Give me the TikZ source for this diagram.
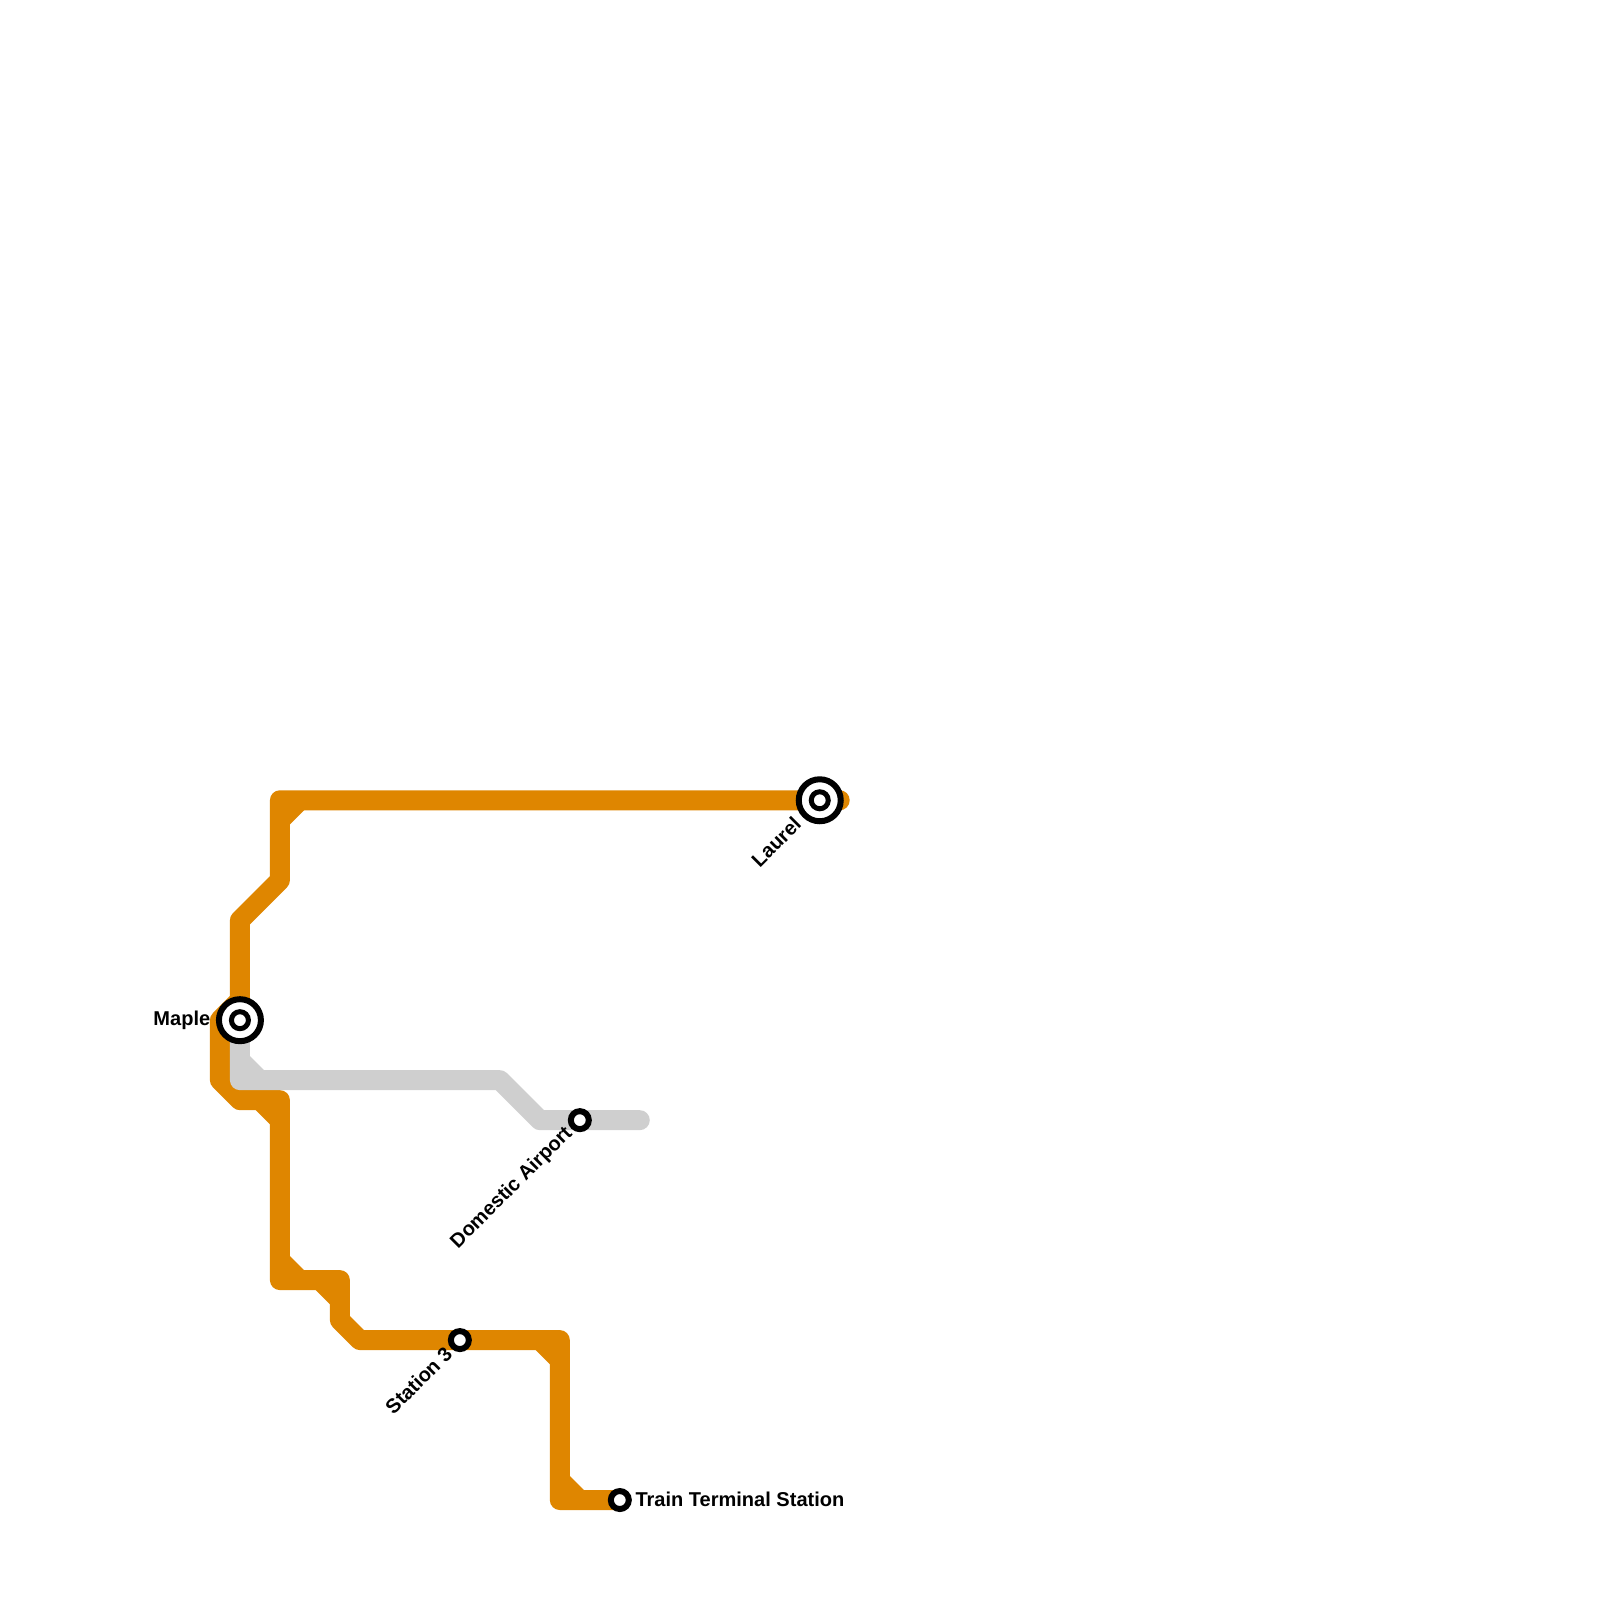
\documentclass[tikz,border=0pt]{standalone}
\usepackage{fontspec}
\setmainfont{Liberation Sans}
\definecolor{LineOrange}{RGB}{223,134,0}
\definecolor{LineGray}{RGB}{207,207,207}
\usetikzlibrary{positioning,calc,backgrounds}

\begin{document}
\begin{tikzpicture}[
        x=0.1mm, y=-0.1mm,
        orangeline/.style={draw=LineOrange, line width=2mm, line cap=round, line join=round},
        grayline/.style={draw=LineGray, line width=2mm, line cap=round, line join=round},
        orangecut/.style={orangeline, line cap=butt},
        graycut/.style={grayline, line cap=butt},
        stop/.style={circle, draw=black, fill=white, line width=0.6mm, inner sep=0pt, minimum size=1.8mm},
        hub/.style={circle, draw=black, fill=white, line width=0.6mm, inner sep=0pt, minimum size=4.2mm},
        hubcore/.style={circle, draw=black, fill=white, line width=0.5mm, inner sep=0pt, minimum size=1.7mm},
        stationname/.style={inner sep=0pt, text=black, font=\fontsize{5.7}{7}\selectfont\bfseries}
    ]
        \useasboundingbox (0,-0.5) rectangle (1600,1600);
        % stations
        \node[hub]     (laurel)   at (820,800)  {};
        \node[hubcore] (laurelin) at (820,800)  {};
        \node[hub]     (maple)    at (240,1020) {};
        \node[hubcore] (maplein)  at (240,1020) {};
        \node[stop]    (airport)  at (580,1120) {};
        \node[stop]    (station3) at (460,1340) {};
        \node[stop]    (terminal) at (620,1500) {};
        % bends of the orange line
        \coordinate (laurelend) at (840,800);
        \coordinate (top)    at (280,800);
        \coordinate (topa)   at (300,800);
        \coordinate (topb)   at (280,820);
        \coordinate (stepa)  at (280,880);
        \coordinate (stepb)  at (240,920);
        \coordinate (maplea) at (240,1000);
        \coordinate (mapleb) at (220,1020);
        \coordinate (maplec) at (220,1080);
        \coordinate (mapled) at (240,1100);
        \coordinate (lowa)   at (260,1100);
        \coordinate (low)    at (280,1100);
        \coordinate (lowb)   at (280,1120);
        \coordinate (dropa)  at (280,1260);
        \coordinate (drop)   at (280,1280);
        \coordinate (dropb)  at (300,1280);
        \coordinate (zaga)   at (320,1280);
        \coordinate (zag)    at (340,1280);
        \coordinate (zagb)   at (340,1300);
        \coordinate (zagc)   at (340,1320);
        \coordinate (zagd)   at (360,1340);
        \coordinate (cornera) at (540,1340);
        \coordinate (corner)  at (560,1340);
        \coordinate (cornerb) at (560,1360);
        \coordinate (enda)   at (560,1480);
        \coordinate (end)    at (560,1500);
        \coordinate (endb)   at (580,1500);
        % bends of the gray line
        \coordinate (graya)  at (240,1060);
        \coordinate (grayb)  at (240,1080);
        \coordinate (grayc)  at (260,1080);
        \coordinate (grayd)  at (500,1080);
        \coordinate (graye)  at (540,1120);
        \coordinate (grayend) at (640,1120);
        % lines go under the stations
        \begin{scope}[on background layer]
            \path[orangeline] (laurelend) -- (laurel.center) -- (top) -- (stepa) -- (stepb) -- (maple.center);
            \path[orangeline] (maplea) -- (mapleb) -- (maplec) -- (mapled) -- (low) -- (drop) -- (zag) -- (zagc) -- (zagd) -- (station3.center) -- (corner) -- (end) -- (terminal.center);
            \path[orangecut] (topa)    -- (topb);
            \path[orangecut] (lowa)    -- (lowb);
            \path[orangecut] (dropa)   -- (dropb);
            \path[orangecut] (zaga)    -- (zagb);
            \path[orangecut] (cornera) -- (cornerb);
            \path[orangecut] (enda)    -- (endb);
            \path[grayline] (maple.center) -- (grayb) -- (grayd) -- (graye) -- (airport.center) -- (grayend);
            \path[graycut] (graya) -- (grayc);
        \end{scope}
        % station names
        \node[stationname, left=0.6mm of maple, xshift=0.1mm] (maplename) {Maple};
        \node[stationname, right=0.3mm of terminal, yshift=0.1mm] (terminalname) {Train Terminal Station};
        \node[stationname, rotate=45, anchor=east] (laurelname)   at ($(laurel)+(-22,20)$)   {Laurel};
        \node[stationname, rotate=45, anchor=east] (airportname)  at ($(airport)+(-10,10)$)  {Domestic Airport};
        \node[stationname, rotate=45, anchor=east] (station3name) at ($(station3)+(-11,10)$) {Station 3};
    \end{tikzpicture}
\end{document}
